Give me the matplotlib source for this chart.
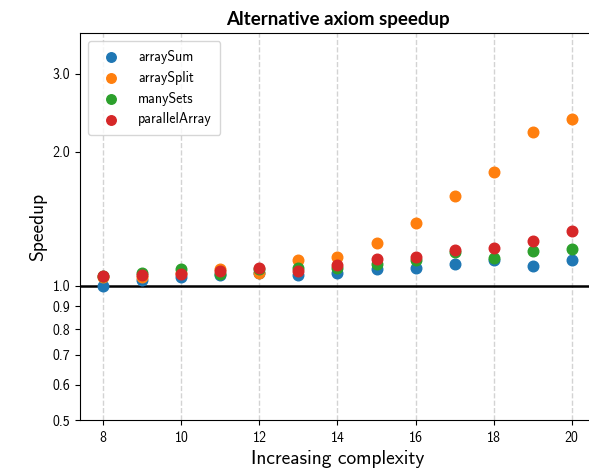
import numpy as np
import matplotlib
matplotlib.use("Agg")
from matplotlib import pyplot as plt
from matplotlib.ticker import FixedLocator, FormatStrFormatter, NullLocator

complexity = [8, 9, 10, 11, 12, 13, 14, 15, 16, 17, 18, 19, 20]
array_sum = [1.000, 1.030, 1.048, 1.057, 1.068, 1.059, 1.070, 1.090, 1.100, 1.123, 1.143, 1.111, 1.143]
array_split = [1.050, 1.048, 1.070, 1.092, 1.071, 1.143, 1.162, 1.252, 1.382, 1.593, 1.801, 2.214, 2.370]
many_sets = [1.052, 1.071, 1.092, 1.066, 1.092, 1.100, 1.100, 1.121, 1.144, 1.193, 1.155, 1.201, 1.212]
parallel_array = [1.053, 1.061, 1.063, 1.081, 1.100, 1.081, 1.113, 1.152, 1.162, 1.204, 1.220, 1.263, 1.332]

series = [
    ("arraySum", array_sum, "#1f77b4"),
    ("arraySplit", array_split, "#ff7f0e"),
    ("manySets", many_sets, "#2ca02c"),
    ("parallelArray", parallel_array, "#d62728"),
]
y_ticks = [0.5, 0.6, 0.7, 0.8, 0.9, 1.0, 2.0, 3.0]

plt.rcParams['font.family'] = ['cmss10', 'DejaVu Sans']
plt.rcParams['axes.formatter.use_mathtext'] = True

fig = plt.figure(figsize=(5.89, 4.70), dpi=100)
ax = fig.add_axes([80 / 589, 50 / 470, 515 / 589, 387 / 470])

for name, vals, color in series:
    ax.scatter(complexity, vals, s=58, color=color, label=name, zorder=3)

ax.axhline(1.0, color="black", linewidth=1.8, zorder=2)
ax.set_yscale("log")
ax.set_ylim(0.5, 3.7)
ax.set_xlim(7.4, 20.6)
ax.yaxis.set_major_locator(FixedLocator(y_ticks))
ax.yaxis.set_major_formatter(FormatStrFormatter("%.1f"))
ax.yaxis.set_minor_locator(NullLocator())
ax.set_xticks(range(8, 21, 2))
ax.tick_params(labelsize=10)

ax.grid(axis="x", linestyle="--", color="#d3d3d3", linewidth=1)
ax.set_axisbelow(True)

ax.set_title("Alternative axiom speedup", fontsize=13.5, fontweight="bold",
             family=["Lato", "DejaVu Sans"])
ax.set_xlabel("Increasing complexity", fontsize=14)
ax.set_ylabel("Speedup", fontsize=14)
ax.legend(loc="upper left", fontsize=10, borderpad=0.6, labelspacing=0.5,
          handletextpad=1.0, markerscale=0.9, borderaxespad=0.6)

fig.savefig("out.png", dpi=100)
